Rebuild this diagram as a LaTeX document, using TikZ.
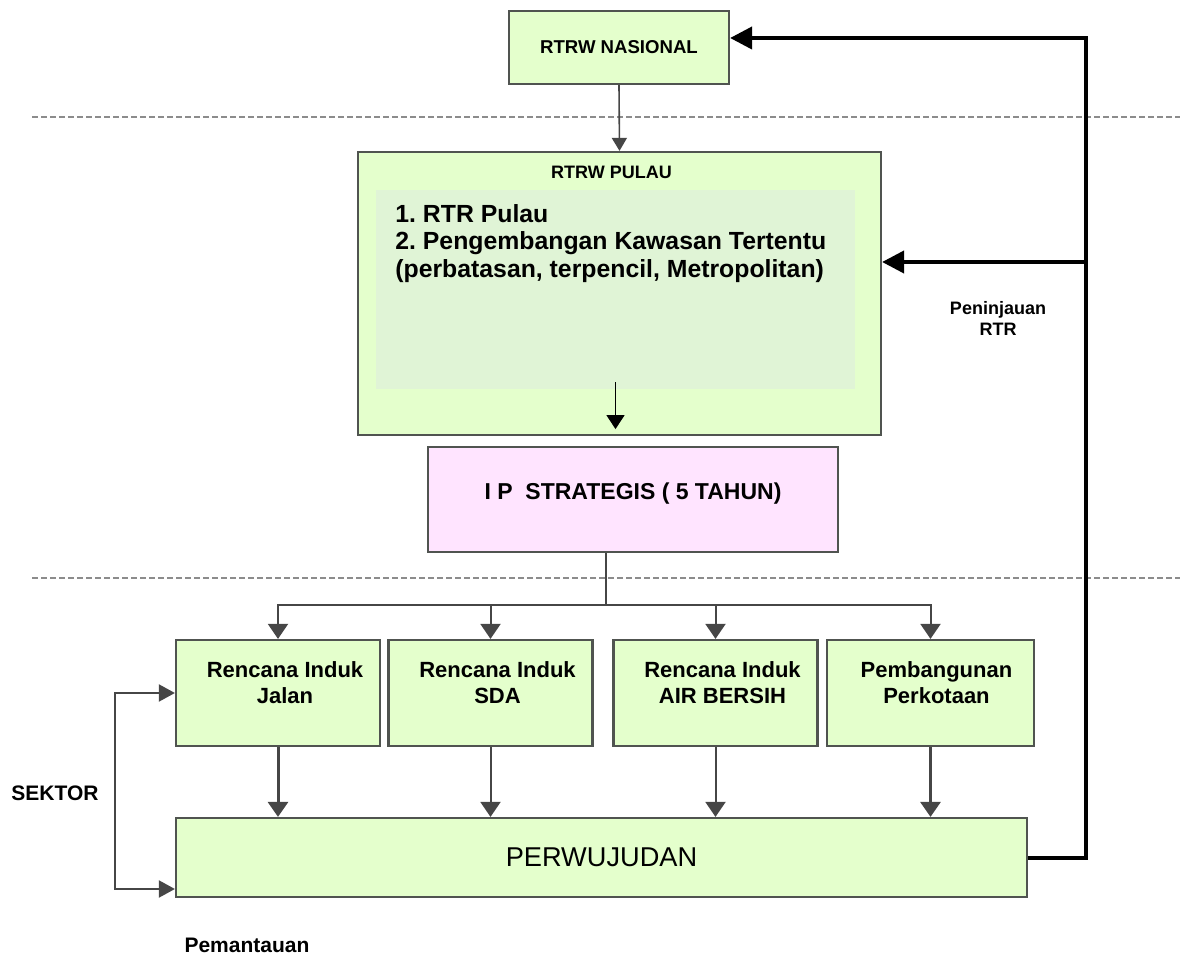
\documentclass[tikz,border=0pt]{standalone}
\usepackage{fontspec}
\setmainfont{Liberation Sans}
\usetikzlibrary{arrows.meta, positioning, calc}
\frenchspacing

\definecolor{boxgreen}{RGB}{228,255,204}
\definecolor{innergreen}{RGB}{224,244,214}
\definecolor{boxpink}{RGB}{255,228,255}
\definecolor{boxline}{RGB}{80,84,80}
\definecolor{linegray}{RGB}{70,70,70}
\definecolor{sepgray}{RGB}{140,140,140}

\begin{document}
\begin{tikzpicture}[
    x=0.5pt, y=-0.5pt,
    gbox/.style={draw=boxline, line width=1.1pt, fill=#1, inner sep=0pt},
    sbox/.style={gbox=boxgreen, minimum width=102pt, minimum height=53pt},
    boxtext/.style={inner sep=0pt, align=center, font=\fontsize{11}{13}\selectfont\bfseries},
    arr/.style={-{Triangle[length=7.5pt, width=10pt]}, line width=1pt, draw=linegray},
    bigarr/.style={-{Triangle[length=11pt, width=11pt]}, line width=2pt, draw=black},
    sep/.style={draw=sepgray, line width=1.3pt, dash pattern=on 3pt off 1.5pt},
  ]
  \useasboundingbox (0,0) rectangle (1180,957);

  % level separators
  \draw[sep] (32,117) -- (1180,117);
  \draw[sep] (32,578) -- (1180,578);

  \node[gbox=boxgreen, minimum width=110pt, minimum height=36.5pt,
        font=\fontsize{9.3}{11}\selectfont\bfseries] (nasional) at (619,47.5) {RTRW NASIONAL};

  \node[gbox=boxgreen, minimum width=261.5pt, minimum height=141.5pt,
        label={[inner sep=0pt, anchor=north, xshift=-4pt, yshift=-7.5pt,
                font=\fontsize{9}{11}\selectfont\bfseries]north:RTRW PULAU}] (pulau) at (619.5,293.5) {};
  \node[fill=innergreen, minimum width=239.5pt, minimum height=99.5pt, inner sep=0pt] (inner) at (615.5,289.5) {};
  \node[anchor=north west, inner sep=0pt, align=left,
        font=\fontsize{12.4}{13.75}\selectfont\bfseries] (pulautext) at (395,204)
        {1. RTR Pulau\\2. Pengembangan Kawasan Tertentu\\(perbatasan, terpencil, Metropolitan)};

  \node[gbox=boxpink, minimum width=205pt, minimum height=52.5pt, text height=8pt, text depth=8pt,
        font=\fontsize{11.5}{13}\selectfont\bfseries] (ip) at (633,499.5) {I P\ \ STRATEGIS ( 5 TAHUN)};

  \node[sbox, label={[boxtext, anchor=north, xshift=3.5pt, yshift=-11pt]north:Rencana Induk\\Jalan}] (jalan) at (278,693) {};
  \node[sbox, label={[boxtext, anchor=north, xshift=3.5pt, yshift=-11pt]north:Rencana Induk\\SDA}] (sda) at (490.5,693) {};
  \node[sbox, label={[boxtext, anchor=north, xshift=3.5pt, yshift=-11pt]north:Rencana Induk\\AIR BERSIH}] (air) at (715.5,693) {};
  \node[sbox, minimum width=103.5pt, label={[boxtext, anchor=north, xshift=3pt, yshift=-11pt]north:Pembangunan\\Perkotaan}] (kota) at (930.5,693) {};

  \node[gbox=boxgreen, minimum width=425.5pt, minimum height=39.5pt,
        font=\fontsize{13.6}{15}\selectfont] (perwujudan) at (601.5,857.5) {PERWUJUDAN};

  \node[font=\fontsize{9}{10.5}\selectfont\bfseries, align=center] (tinjau) at (998,318) {Peninjauan\\RTR};
  \node[font=\fontsize{10.5}{12}\selectfont\bfseries] (sektor) at (55,793) {SEKTOR};
  \node[font=\fontsize{10.5}{12}\selectfont\bfseries] (pantau) at (247,945) {Pemantauan};

  % top-down flow
  \draw[arr, line width=0.8pt, -{Triangle[length=6.5pt, width=7.5pt]}] (nasional.south) -- (pulau.north);
  \draw[-{Triangle[length=7pt, width=9pt]}, line width=0.7pt] ([yshift=3.5pt]inner.south) -- ([yshift=3.5pt]inner.south |- pulau.south);

  \coordinate (split) at (606,605);
  \draw[arr, -] (split |- ip.south) -- (split);
  \foreach \b in {jalan, sda, air, kota}
    \draw[arr] (split) -| (\b.north);
  \foreach \b/\w in {jalan/1.5pt, sda/1pt, air/1pt, kota/1.5pt}
    \draw[arr, line width=\w] (\b.south) -- (\b.south |- perwujudan.north);

  % review loop
  \coordinate (looptop) at (1086,38);
  \coordinate (loopmid) at (1086,262);
  \draw[bigarr] (perwujudan.east) -| (looptop) -- (looptop -| nasional.east);
  \draw[bigarr] (loopmid) -- (loopmid -| pulau.east);

  % monitoring loop
  \coordinate (leftbot) at (115,889);
  \draw[arr, {Triangle[length=8pt, width=8.5pt]}-{Triangle[length=8pt, width=8.5pt]}] (jalan.west) -| (leftbot) -- (leftbot -| perwujudan.west);
\end{tikzpicture}
\end{document}
